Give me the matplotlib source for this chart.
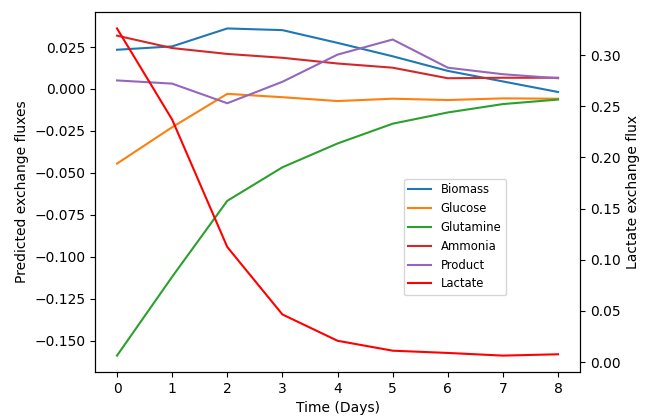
import numpy as np
import matplotlib
matplotlib.use('Agg')
import matplotlib.pyplot as plt

days = [0, 1, 2, 3, 4, 5, 6, 7, 8]

biomass = [0.0234, 0.0254, 0.0361, 0.0351, 0.0275, 0.0195, 0.0108, 0.0045, -0.0018]
glucose = [-0.0445, -0.0228, -0.0029, -0.0049, -0.0072, -0.0058, -0.0066, -0.0056, -0.0058]
glutamine = [-0.159, -0.112, -0.0667, -0.0467, -0.0325, -0.0207, -0.014, -0.009, -0.0063]
ammonia = [0.0318, 0.0244, 0.0209, 0.0186, 0.0152, 0.0127, 0.0064, 0.0067, 0.0067]
product = [0.0051, 0.0032, -0.0085, 0.0043, 0.0205, 0.0295, 0.0127, 0.0088, 0.0064]
lactate = [0.326, 0.237, 0.1125, 0.0466, 0.0209, 0.0112, 0.009, 0.0064, 0.0077]

fig, ax = plt.subplots(figsize=(6.46, 4.17), dpi=100)
fig.subplots_adjust(left=0.147, right=0.898, top=0.971, bottom=0.108)

l1, = ax.plot(days, biomass, color='tab:blue', label='Biomass')
l2, = ax.plot(days, glucose, color='tab:orange', label='Glucose')
l3, = ax.plot(days, glutamine, color='tab:green', label='Glutamine')
l4, = ax.plot(days, ammonia, color='tab:red', label='Ammonia')
l5, = ax.plot(days, product, color='tab:purple', label='Product')
ax.set_xlabel('Time (Days)')
ax.set_ylabel('Predicted exchange fluxes')

ax2 = ax.twinx()
l6, = ax2.plot(days, lactate, color='red', label='Lactate')
ax2.set_ylabel('Lactate exchange flux')

lines = [l1, l2, l3, l4, l5, l6]
fig.legend(lines, [l.get_label() for l in lines], loc='upper left',
           bbox_to_anchor=(0.616, 0.585), fontsize='small')

plt.savefig('out.png')
